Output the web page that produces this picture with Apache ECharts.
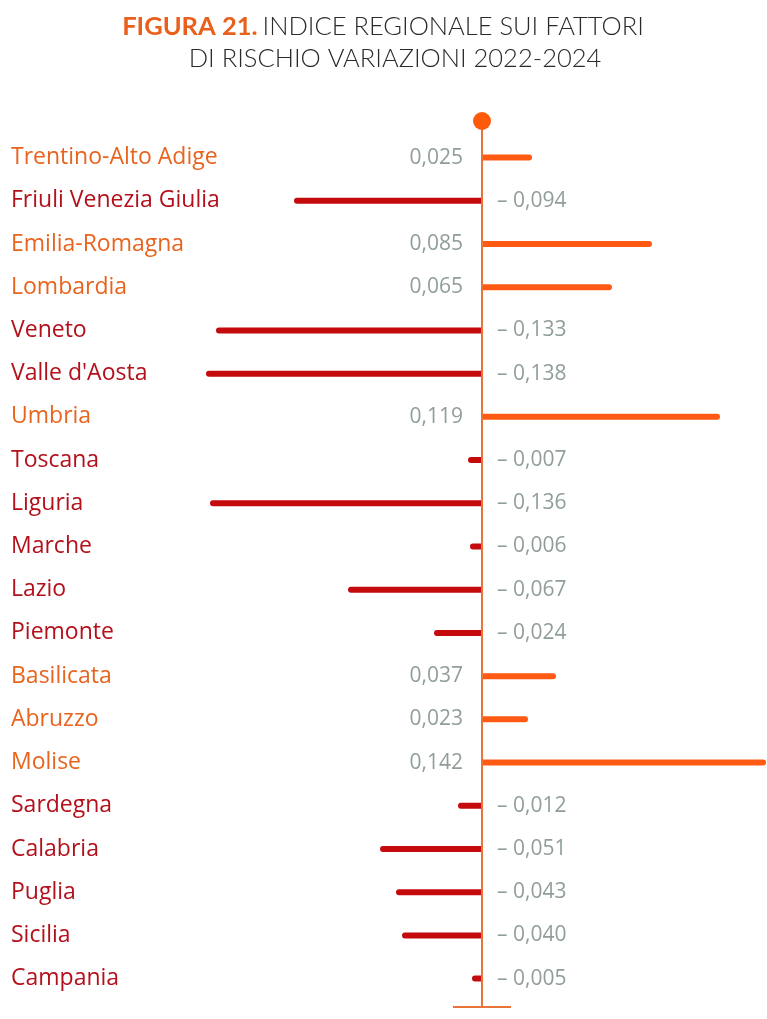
<!DOCTYPE html>
<html>
<head>
<meta charset="utf-8">
<script src="https://cdn.jsdelivr.net/npm/echarts@6/dist/echarts.min.js"></script>
<style>
  html, body { margin: 0; padding: 0; background: #fff; }
  #chart { width: 767px; height: 1019px; }
</style>
</head>
<body>
<div id="chart"></div>
<script>
// regioni, dall'alto verso il basso
const regions = [
  "Trentino-Alto Adige", "Friuli Venezia Giulia", "Emilia-Romagna", "Lombardia",
  "Veneto", "Valle d'Aosta", "Umbria", "Toscana", "Liguria", "Marche",
  "Lazio", "Piemonte", "Basilicata", "Abruzzo", "Molise", "Sardegna",
  "Calabria", "Puglia", "Sicilia", "Campania"
];
// variazione indice 2022-2024
const values = [
  0.025, -0.094, 0.085, 0.065, -0.133, -0.138, 0.119, -0.007, -0.136, -0.006,
  -0.067, -0.024, 0.037, 0.023, 0.142, -0.012, -0.051, -0.043, -0.040, -0.005
];

const POS_BAR = "#ff5a14";
const NEG_BAR = "#c40a0c";
const POS_TXT = "#e8641e";
const NEG_TXT = "#b3101b";
const VAL_TXT = "#74867f";
const AXIS = "#e8743a";
const FONT = "Open Sans";
const TFONT = "Lato";

function fmt(v) {
  const s = Math.abs(v).toFixed(3).replace(".", ",");
  return v < 0 ? "\u2013 " + s : s;
}

const chart = echarts.init(document.getElementById("chart"));

chart.setOption({
  animation: false,
  title: [
    {
      left: 378,
      textAlign: "center",
      top: 9,
      text: "{b|FIGURA 21.} {n|INDICE REGIONALE SUI FATTORI}",
      textStyle: {
        rich: {
          b: { fontFamily: TFONT, fontSize: 25.5, fontWeight: "bold", color: "#e8601c" },
          n: { fontFamily: TFONT, fontSize: 25.5, fontWeight: 300, color: "#2a2a2a" }
        }
      }
    },
    {
      left: 390,
      textAlign: "center",
      top: 41,
      text: "DI RISCHIO VARIAZIONI 2022-2024",
      textStyle: { fontFamily: TFONT, fontSize: 25.5, fontWeight: 300, color: "#2a2a2a" }
    }
  ],
  grid: { left: 0, right: 0, top: 136, height: 864.2 },
  xAxis: {
    type: "value",
    min: -0.241,
    max: 0.1425,
    show: false,
    splitLine: { show: false }
  },
  yAxis: {
    type: "category",
    inverse: true,
    data: regions,
    axisLine: { show: false, onZero: false },
    axisTick: { show: false },
    axisLabel: {
      inside: true,
      margin: 11,
      fontFamily: FONT,
      fontSize: 23,
      color: (val, idx) => (values[idx] >= 0 ? POS_TXT : NEG_TXT)
    }
  },
  series: [
    {
      type: "bar",
      barWidth: 6,
      z: 3,
      data: values.map(v => ({
        value: v,
        itemStyle: {
          color: v >= 0 ? POS_BAR : NEG_BAR,
          borderRadius: v >= 0 ? [0, 3, 3, 0] : [3, 0, 0, 3]
        }
      }))
    },
    {
      // etichette dei valori ancorate allo zero
      type: "scatter",
      symbolSize: 0,
      silent: true,
      data: values.map((v, i) => ({
        value: [0, i],
        label: {
          show: true,
          position: v >= 0 ? "left" : "right",
          distance: v >= 0 ? 19 : 15,
          formatter: fmt(v),
          fontFamily: FONT,
          fontSize: 21,
          color: VAL_TXT
        }
      }))
    }
  ]
});

// asse verticale con pallino in cima e trattino alla base
const x0 = chart.convertToPixel({ xAxisIndex: 0 }, 0);
chart.setOption({
  graphic: [
    { type: "line", z: 5, shape: { x1: x0, y1: 120, x2: x0, y2: 1007 }, style: { stroke: AXIS, lineWidth: 2 } },
    { type: "line", z: 5, shape: { x1: x0 - 29, y1: 1007, x2: x0 + 29, y2: 1007 }, style: { stroke: AXIS, lineWidth: 2 } },
    { type: "circle", z: 6, shape: { cx: x0, cy: 121, r: 9 }, style: { fill: "#ff5a0a" } }
  ]
});
</script>
</body>
</html>
